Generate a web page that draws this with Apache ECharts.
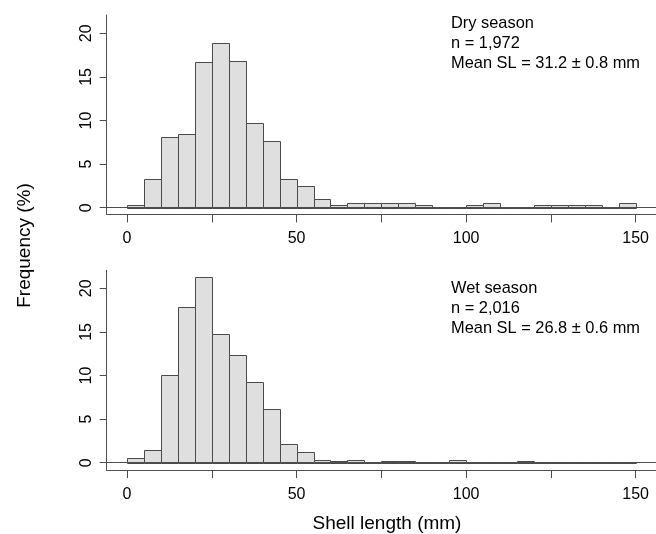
<!DOCTYPE html>
<html>
<head>
<meta charset="utf-8">
<script src="https://cdn.jsdelivr.net/npm/echarts@6/dist/echarts.min.js"></script>
<style>
html,body{margin:0;padding:0;background:#fff;}
#chart{width:656px;height:534px;}
</style>
</head>
<body>
<div id="chart"></div>
<script>
// ---- data (percent frequency per 5 mm shell-length bin) ----
const binWidth = 5;
const binStarts = [0,5,10,15,20,25,30,35,40,45,50,55,60,65,70,75,80,85,90,95,100,105,110,115,120,125,130,135,140,145];
const dryFreq = [0.3,3.3,8.1,8.4,16.7,18.9,16.8,9.7,7.6,3.3,2.5,1.0,0.3,0.5,0.5,0.5,0.5,0.3,0,0,0.3,0.5,0,0,0.3,0.3,0.3,0.3,0,0.5];
const wetFreq = [0.5,1.5,10.0,17.9,21.3,14.8,12.4,9.2,6.1,2.2,1.2,0.35,0.2,0.35,0,0.15,0.15,0,0,0.35,0,0,0,0.15,0,0,0,0,0,0];
const xTicks = [0,25,50,75,100,125,150];
const xLabels = [0,50,100,150];
const yTicks = [0,5,10,15,20];
const dryText = ['Dry season','n = 1,972','Mean SL = 31.2 \u00b1 0.8 mm'];
const wetText = ['Wet season','n = 2,016','Mean SL = 26.8 \u00b1 0.6 mm'];
const xTitle = 'Shell length (mm)';
const yTitle = 'Frequency (%)';

const FONT = "'Liberation Sans', Arial, Helvetica, sans-serif";
const AX = '#4d4d4d';
const TXT = '#000';

function toData(freq){ return binStarts.map((s,i)=>[s, s+binWidth, freq[i]]); }

function renderBar(params, api){
  const p0 = api.coord([api.value(0), api.value(2)]);
  const p1 = api.coord([api.value(1), 0]);
  const x = Math.round(p0[0]) + 0.5, y = Math.round(p0[1]) + 0.5;
  const x2 = Math.round(p1[0]) + 0.5, y2 = Math.round(p1[1]) + 0.5;
  return {type:'rect', shape:{x:x, y:y, width:x2-x, height:y2-y},
          style:{fill:'#dfdfdf', stroke:'#4a4a4a', lineWidth:1}};
}

function xAxisCfg(idx){
  return {type:'value', gridIndex:idx, min:-6, max:156,
    axisLine:{show:true, onZero:false, lineStyle:{color:AX, width:1}},
    axisTick:{show:true, length:8, customValues:xTicks, lineStyle:{color:AX}},
    axisLabel:{customValues:xLabels, margin:16, color:TXT, fontSize:16, fontFamily:FONT},
    splitLine:{show:false}};
}
function yAxisCfg(idx, mn, mx){
  return {type:'value', gridIndex:idx, min:mn, max:mx,
    axisLine:{show:true, onZero:false, lineStyle:{color:AX, width:1}},
    axisTick:{show:true, length:7, customValues:yTicks, lineStyle:{color:AX}},
    axisLabel:{customValues:yTicks, rotate:90, margin:12, color:TXT, fontSize:16, fontFamily:FONT},
    splitLine:{show:false}};
}
function seriesCfg(idx, freq){
  return {type:'custom', xAxisIndex:idx, yAxisIndex:idx, renderItem:renderBar,
    data:toData(freq), clip:false, silent:true,
    markLine:{silent:true, symbol:'none', label:{show:false},
      lineStyle:{color:AX, width:1, type:'solid'}, data:[{yAxis:0}]}};
}

const chart = echarts.init(document.getElementById('chart'), null, {renderer:'canvas'});
chart.setOption({
  animation:false,
  backgroundColor:'#fff',
  grid:[
    {left:106.7, top:15, width:551.4, height:199.3},
    {left:106.7, top:270.4, width:551.4, height:199.7}
  ],
  xAxis:[xAxisCfg(0), xAxisCfg(1)],
  yAxis:[yAxisCfg(0,-0.757,22.1), yAxisCfg(1,-0.85,22.05)],
  series:[seriesCfg(0, dryFreq), seriesCfg(1, wetFreq)],
  graphic:[
    {type:'text', left:451, top:13, style:{text:dryText.join('\n'), font:'16.4px '+FONT, lineHeight:20, fill:TXT}},
    {type:'text', left:451, top:278, style:{text:wetText.join('\n'), font:'16.4px '+FONT, lineHeight:20, fill:TXT}},
    {type:'text', x:387, y:524, style:{text:xTitle, font:'19px '+FONT, fill:TXT, align:'center', verticalAlign:'middle'}},
    {type:'text', x:25, y:245.5, rotation:Math.PI/2, style:{text:yTitle, font:'19px '+FONT, fill:TXT, align:'center', verticalAlign:'middle'}}
  ]
});
</script>
</body>
</html>
